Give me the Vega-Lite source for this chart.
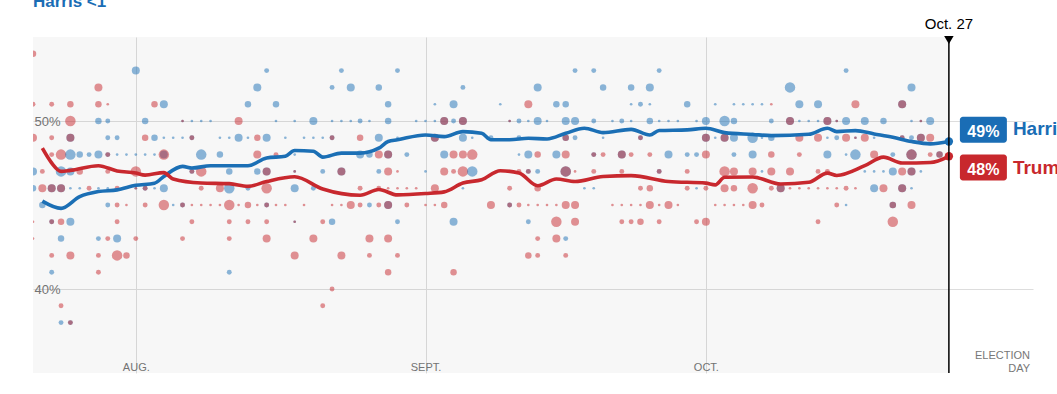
{
"$schema": "https://vega.github.io/schema/vega-lite/v6.json",
"width": 1000, "height": 336,
"autosize": {"type": "none"},
"padding": {"left": 33, "top": 37, "right": 24, "bottom": 21},
"background": "#ffffff",
"config": {"view": {"stroke": null}, "font": "Liberation Sans"},
"layer": [
{"data": {"values": [{"d":"2024/07/21","d2":"2024/10/27"}]},
 "mark": {"type":"rect","fill":"#000000","fillOpacity":0.031},
 "encoding": {
  "x": {"field":"d","type":"temporal","title":null,
   "scale":{"domain":[{"year":2024,"month":7,"date":21},{"year":2024,"month":11,"date":5}],"nice":false},
   "axis":{"values":[{"year":2024,"month":8,"date":1},{"year":2024,"month":9,"date":1},{"year":2024,"month":10,"date":1}],
     "labelExpr":"['JAN.','FEB.','MAR.','APR.','MAY','JUNE','JULY','AUG.','SEPT.','OCT.','NOV.','DEC.'][month(datum.value)]",
     "grid":true,"gridColor":"#dddddd","domain":false,"ticks":false,"tickSize":0,"labelPadding":-12,"labelBaseline":"top",
     "labelFontSize":11,"labelColor":"#777777","labelFlush":false,"labelAlign":"center"}},
  "x2": {"field":"d2"}}},
{"data": {"values": [
{"d":"2024/07/21","v":54,"c":"T","s":3},
{"d":"2024/08/01","v":53,"c":"H","s":4},{"d":"2024/08/15","v":53,"c":"H","s":2},{"d":"2024/08/23","v":53,"c":"H","s":2},{"d":"2024/08/29","v":53,"c":"H","s":2},{"d":"2024/09/17","v":53,"c":"H","s":2},{"d":"2024/09/19","v":53,"c":"H","s":2},{"d":"2024/09/26","v":53,"c":"H","s":2},{"d":"2024/10/16","v":53,"c":"H","s":2},
{"d":"2024/07/28","v":52,"c":"T","s":4},{"d":"2024/08/14","v":52,"c":"H","s":4},{"d":"2024/08/22","v":52,"c":"H","s":2},{"d":"2024/08/24","v":52,"c":"H","s":4},{"d":"2024/08/27","v":52,"c":"H","s":3},{"d":"2024/09/05","v":52,"c":"H","s":2},{"d":"2024/09/13","v":52,"c":"H","s":4},{"d":"2024/09/20","v":52,"c":"H","s":3},{"d":"2024/09/23","v":52,"c":"H","s":3},{"d":"2024/09/25","v":52,"c":"H","s":4},{"d":"2024/10/10","v":52,"c":"H","s":5},{"d":"2024/10/23","v":52,"c":"H","s":4},
{"d":"2024/07/21","v":51,"c":"T","s":2},{"d":"2024/07/23","v":51,"c":"T","s":2},{"d":"2024/07/25","v":51,"c":"T","s":3},{"d":"2024/07/28","v":51,"c":"T","s":3},{"d":"2024/07/29","v":51,"c":"T","s":1},{"d":"2024/08/03","v":51,"c":"T","s":3},{"d":"2024/08/04","v":51,"c":"H","s":4},{"d":"2024/08/13","v":51,"c":"H","s":3},{"d":"2024/08/16","v":51,"c":"H","s":3},{"d":"2024/08/28","v":51,"c":"H","s":3},{"d":"2024/09/02","v":51,"c":"H","s":1},{"d":"2024/09/04","v":51,"c":"H","s":4},{"d":"2024/09/09","v":51,"c":"H","s":1},{"d":"2024/09/12","v":51,"c":"T","s":4},{"d":"2024/09/15","v":51,"c":"H","s":3},{"d":"2024/09/16","v":51,"c":"H","s":3},{"d":"2024/09/23","v":51,"c":"H","s":1},{"d":"2024/09/24","v":51,"c":"H","s":2},{"d":"2024/09/25","v":51,"c":"H","s":1},{"d":"2024/09/29","v":51,"c":"H","s":3},{"d":"2024/10/02","v":51,"c":"H","s":1},{"d":"2024/10/04","v":51,"c":"H","s":1},{"d":"2024/10/05","v":51,"c":"H","s":1},{"d":"2024/10/06","v":51,"c":"H","s":1},{"d":"2024/10/07","v":51,"c":"H","s":1},{"d":"2024/10/08","v":51,"c":"T","s":1},{"d":"2024/10/11","v":51,"c":"H","s":4},{"d":"2024/10/13","v":51,"c":"H","s":4},{"d":"2024/10/17","v":51,"c":"T","s":4},{"d":"2024/10/22","v":51,"c":"H","s":4},{"d":"2024/10/22","v":51,"c":"T","s":4},
{"d":"2024/07/25","v":50,"c":"T","s":5},{"d":"2024/07/28","v":50,"c":"H","s":3},{"d":"2024/07/29","v":50,"c":"H","s":2},{"d":"2024/08/02","v":50,"c":"H","s":3},{"d":"2024/08/06","v":50,"c":"H","s":1},{"d":"2024/08/06","v":50,"c":"T","s":1},{"d":"2024/08/07","v":50,"c":"H","s":1},{"d":"2024/08/08","v":50,"c":"H","s":1},{"d":"2024/08/09","v":50,"c":"H","s":1},{"d":"2024/08/12","v":50,"c":"T","s":4},{"d":"2024/08/16","v":50,"c":"H","s":1},{"d":"2024/08/18","v":50,"c":"H","s":1},{"d":"2024/08/20","v":50,"c":"H","s":4},{"d":"2024/08/22","v":50,"c":"H","s":1},{"d":"2024/08/23","v":50,"c":"H","s":1},{"d":"2024/08/24","v":50,"c":"H","s":1},{"d":"2024/08/25","v":50,"c":"H","s":2},{"d":"2024/08/26","v":50,"c":"H","s":1},{"d":"2024/08/28","v":50,"c":"H","s":3},{"d":"2024/08/31","v":50,"c":"H","s":1},{"d":"2024/09/01","v":50,"c":"H","s":1},{"d":"2024/09/02","v":50,"c":"H","s":1},{"d":"2024/09/03","v":50,"c":"H","s":4},{"d":"2024/09/03","v":50,"c":"T","s":4},{"d":"2024/09/04","v":50,"c":"H","s":2},{"d":"2024/09/05","v":50,"c":"H","s":4},{"d":"2024/09/05","v":50,"c":"T","s":4},{"d":"2024/09/10","v":50,"c":"H","s":1},{"d":"2024/09/10","v":50,"c":"T","s":1},{"d":"2024/09/11","v":50,"c":"H","s":2},{"d":"2024/09/12","v":50,"c":"H","s":1},{"d":"2024/09/13","v":50,"c":"H","s":4},{"d":"2024/09/14","v":50,"c":"H","s":1},{"d":"2024/09/16","v":50,"c":"H","s":4},{"d":"2024/09/17","v":50,"c":"H","s":4},{"d":"2024/09/19","v":50,"c":"H","s":2},{"d":"2024/09/21","v":50,"c":"H","s":1},{"d":"2024/09/22","v":50,"c":"H","s":2},{"d":"2024/09/23","v":50,"c":"H","s":1},{"d":"2024/09/25","v":50,"c":"H","s":3},{"d":"2024/09/26","v":50,"c":"H","s":1},{"d":"2024/09/27","v":50,"c":"H","s":1},{"d":"2024/09/28","v":50,"c":"H","s":1},{"d":"2024/09/30","v":50,"c":"H","s":1},{"d":"2024/10/01","v":50,"c":"H","s":4},{"d":"2024/10/03","v":50,"c":"H","s":5},{"d":"2024/10/04","v":50,"c":"H","s":3},{"d":"2024/10/08","v":50,"c":"H","s":2},{"d":"2024/10/10","v":50,"c":"H","s":4},{"d":"2024/10/10","v":50,"c":"T","s":4},{"d":"2024/10/11","v":50,"c":"H","s":1},{"d":"2024/10/12","v":50,"c":"H","s":1},{"d":"2024/10/13","v":50,"c":"H","s":1},{"d":"2024/10/14","v":50,"c":"H","s":4},{"d":"2024/10/14","v":50,"c":"T","s":4},{"d":"2024/10/15","v":50,"c":"H","s":1},{"d":"2024/10/15","v":50,"c":"T","s":1},{"d":"2024/10/16","v":50,"c":"H","s":4},{"d":"2024/10/18","v":50,"c":"H","s":4},{"d":"2024/10/20","v":50,"c":"H","s":3},{"d":"2024/10/23","v":50,"c":"H","s":1},{"d":"2024/10/24","v":50,"c":"H","s":1},{"d":"2024/10/24","v":50,"c":"T","s":1},{"d":"2024/10/25","v":50,"c":"H","s":4},
{"d":"2024/07/21","v":49,"c":"T","s":4},{"d":"2024/07/23","v":49,"c":"T","s":2},{"d":"2024/07/25","v":49,"c":"H","s":4},{"d":"2024/07/25","v":49,"c":"T","s":4},{"d":"2024/07/29","v":49,"c":"H","s":2},{"d":"2024/07/30","v":49,"c":"H","s":2},{"d":"2024/08/02","v":49,"c":"T","s":3},{"d":"2024/08/03","v":49,"c":"H","s":3},{"d":"2024/08/04","v":49,"c":"H","s":1},{"d":"2024/08/05","v":49,"c":"H","s":1},{"d":"2024/08/06","v":49,"c":"H","s":1},{"d":"2024/08/07","v":49,"c":"H","s":2},{"d":"2024/08/07","v":49,"c":"T","s":2},{"d":"2024/08/10","v":49,"c":"H","s":1},{"d":"2024/08/11","v":49,"c":"H","s":1},{"d":"2024/08/12","v":49,"c":"H","s":4},{"d":"2024/08/13","v":49,"c":"H","s":1},{"d":"2024/08/14","v":49,"c":"T","s":3},{"d":"2024/08/15","v":49,"c":"H","s":4},{"d":"2024/08/17","v":49,"c":"H","s":1},{"d":"2024/08/19","v":49,"c":"H","s":1},{"d":"2024/08/20","v":49,"c":"H","s":1},{"d":"2024/08/21","v":49,"c":"H","s":1},{"d":"2024/08/22","v":49,"c":"H","s":2},{"d":"2024/08/22","v":49,"c":"T","s":2},{"d":"2024/08/25","v":49,"c":"T","s":3},{"d":"2024/08/27","v":49,"c":"H","s":4},{"d":"2024/08/29","v":49,"c":"H","s":1},{"d":"2024/09/02","v":49,"c":"H","s":4},{"d":"2024/09/02","v":49,"c":"T","s":4},{"d":"2024/09/05","v":49,"c":"H","s":4},{"d":"2024/09/06","v":49,"c":"H","s":1},{"d":"2024/09/08","v":49,"c":"H","s":2},{"d":"2024/09/11","v":49,"c":"H","s":2},{"d":"2024/09/16","v":49,"c":"H","s":3},{"d":"2024/09/16","v":49,"c":"T","s":3},{"d":"2024/09/17","v":49,"c":"H","s":2},{"d":"2024/09/20","v":49,"c":"H","s":1},{"d":"2024/09/24","v":49,"c":"H","s":2},{"d":"2024/09/24","v":49,"c":"T","s":2},{"d":"2024/10/01","v":49,"c":"H","s":4},{"d":"2024/10/01","v":49,"c":"T","s":4},{"d":"2024/10/02","v":49,"c":"H","s":1},{"d":"2024/10/03","v":49,"c":"H","s":4},{"d":"2024/10/03","v":49,"c":"T","s":4},{"d":"2024/10/04","v":49,"c":"H","s":4},{"d":"2024/10/06","v":49,"c":"H","s":5},{"d":"2024/10/07","v":49,"c":"H","s":1},{"d":"2024/10/08","v":49,"c":"H","s":3},{"d":"2024/10/11","v":49,"c":"T","s":4},{"d":"2024/10/13","v":49,"c":"T","s":4},{"d":"2024/10/14","v":49,"c":"H","s":1},{"d":"2024/10/15","v":49,"c":"H","s":2},{"d":"2024/10/16","v":49,"c":"T","s":4},{"d":"2024/10/17","v":49,"c":"H","s":1},{"d":"2024/10/17","v":49,"c":"T","s":1},{"d":"2024/10/18","v":49,"c":"T","s":4},{"d":"2024/10/19","v":49,"c":"H","s":1},{"d":"2024/10/22","v":49,"c":"H","s":2},{"d":"2024/10/22","v":49,"c":"T","s":2},{"d":"2024/10/23","v":49,"c":"H","s":2},{"d":"2024/10/24","v":49,"c":"H","s":4},{"d":"2024/10/24","v":49,"c":"T","s":4},{"d":"2024/10/25","v":49,"c":"T","s":4},
{"d":"2024/07/23","v":48,"c":"T","s":2},{"d":"2024/07/24","v":48,"c":"T","s":5},{"d":"2024/07/25","v":48,"c":"H","s":5},{"d":"2024/07/26","v":48,"c":"H","s":3},{"d":"2024/07/27","v":48,"c":"H","s":2},{"d":"2024/07/28","v":48,"c":"H","s":4},{"d":"2024/07/29","v":48,"c":"H","s":2},{"d":"2024/07/29","v":48,"c":"T","s":2},{"d":"2024/07/30","v":48,"c":"H","s":1},{"d":"2024/07/31","v":48,"c":"H","s":1},{"d":"2024/08/01","v":48,"c":"H","s":1},{"d":"2024/08/02","v":48,"c":"H","s":1},{"d":"2024/08/03","v":48,"c":"H","s":1},{"d":"2024/08/04","v":48,"c":"H","s":4},{"d":"2024/08/04","v":48,"c":"T","s":5},{"d":"2024/08/08","v":48,"c":"H","s":5},{"d":"2024/08/10","v":48,"c":"H","s":3},{"d":"2024/08/14","v":48,"c":"T","s":4},{"d":"2024/08/16","v":48,"c":"T","s":2},{"d":"2024/08/18","v":48,"c":"H","s":1},{"d":"2024/08/25","v":48,"c":"H","s":4},{"d":"2024/08/26","v":48,"c":"H","s":3},{"d":"2024/08/27","v":48,"c":"T","s":4},{"d":"2024/08/28","v":48,"c":"H","s":4},{"d":"2024/08/28","v":48,"c":"T","s":4},{"d":"2024/08/30","v":48,"c":"H","s":2},{"d":"2024/09/03","v":48,"c":"H","s":4},{"d":"2024/09/04","v":48,"c":"T","s":4},{"d":"2024/09/05","v":48,"c":"T","s":4},{"d":"2024/09/06","v":48,"c":"T","s":5},{"d":"2024/09/11","v":48,"c":"H","s":1},{"d":"2024/09/12","v":48,"c":"H","s":4},{"d":"2024/09/13","v":48,"c":"T","s":3},{"d":"2024/09/15","v":48,"c":"H","s":4},{"d":"2024/09/16","v":48,"c":"T","s":4},{"d":"2024/09/19","v":48,"c":"H","s":2},{"d":"2024/09/19","v":48,"c":"T","s":2},{"d":"2024/09/20","v":48,"c":"T","s":2},{"d":"2024/09/22","v":48,"c":"H","s":4},{"d":"2024/09/22","v":48,"c":"T","s":4},{"d":"2024/09/23","v":48,"c":"T","s":2},{"d":"2024/09/25","v":48,"c":"T","s":2},{"d":"2024/09/27","v":48,"c":"H","s":4},{"d":"2024/09/29","v":48,"c":"H","s":2},{"d":"2024/09/30","v":48,"c":"H","s":2},{"d":"2024/10/01","v":48,"c":"T","s":4},{"d":"2024/10/04","v":48,"c":"H","s":2},{"d":"2024/10/06","v":48,"c":"H","s":4},{"d":"2024/10/08","v":48,"c":"T","s":3},{"d":"2024/10/11","v":48,"c":"T","s":2},{"d":"2024/10/14","v":48,"c":"H","s":4},{"d":"2024/10/16","v":48,"c":"H","s":1},{"d":"2024/10/17","v":48,"c":"H","s":5},{"d":"2024/10/19","v":48,"c":"T","s":4},{"d":"2024/10/21","v":48,"c":"H","s":2},{"d":"2024/10/23","v":48,"c":"H","s":5},{"d":"2024/10/23","v":48,"c":"T","s":5},{"d":"2024/10/25","v":48,"c":"T","s":2},{"d":"2024/10/26","v":48,"c":"H","s":3},{"d":"2024/10/26","v":48,"c":"T","s":3},
{"d":"2024/07/21","v":47,"c":"H","s":4},{"d":"2024/07/22","v":47,"c":"T","s":2},{"d":"2024/07/24","v":47,"c":"H","s":5},{"d":"2024/07/25","v":47,"c":"H","s":4},{"d":"2024/07/26","v":47,"c":"T","s":3},{"d":"2024/07/29","v":47,"c":"T","s":2},{"d":"2024/08/01","v":47,"c":"T","s":5},{"d":"2024/08/07","v":47,"c":"H","s":2},{"d":"2024/08/07","v":47,"c":"T","s":2},{"d":"2024/08/08","v":47,"c":"T","s":5},{"d":"2024/08/11","v":47,"c":"H","s":3},{"d":"2024/08/14","v":47,"c":"H","s":3},{"d":"2024/08/15","v":47,"c":"H","s":4},{"d":"2024/08/15","v":47,"c":"T","s":4},{"d":"2024/08/18","v":47,"c":"H","s":1},{"d":"2024/08/18","v":47,"c":"T","s":1},{"d":"2024/08/21","v":47,"c":"H","s":2},{"d":"2024/08/23","v":47,"c":"H","s":4},{"d":"2024/08/23","v":47,"c":"T","s":4},{"d":"2024/08/27","v":47,"c":"H","s":2},{"d":"2024/08/28","v":47,"c":"T","s":4},{"d":"2024/08/29","v":47,"c":"T","s":1},{"d":"2024/09/01","v":47,"c":"H","s":1},{"d":"2024/09/03","v":47,"c":"T","s":4},{"d":"2024/09/04","v":47,"c":"T","s":2},{"d":"2024/09/05","v":47,"c":"T","s":5},{"d":"2024/09/06","v":47,"c":"H","s":5},{"d":"2024/09/11","v":47,"c":"T","s":2},{"d":"2024/09/12","v":47,"c":"H","s":2},{"d":"2024/09/12","v":47,"c":"T","s":2},{"d":"2024/09/13","v":47,"c":"H","s":2},{"d":"2024/09/16","v":47,"c":"H","s":5},{"d":"2024/09/16","v":47,"c":"T","s":5},{"d":"2024/09/17","v":47,"c":"T","s":1},{"d":"2024/09/19","v":47,"c":"T","s":2},{"d":"2024/09/22","v":47,"c":"T","s":2},{"d":"2024/09/26","v":47,"c":"H","s":2},{"d":"2024/09/26","v":47,"c":"T","s":2},{"d":"2024/09/29","v":47,"c":"T","s":2},{"d":"2024/10/03","v":47,"c":"T","s":5},{"d":"2024/10/04","v":47,"c":"T","s":4},{"d":"2024/10/06","v":47,"c":"T","s":4},{"d":"2024/10/07","v":47,"c":"H","s":1},{"d":"2024/10/08","v":47,"c":"T","s":4},{"d":"2024/10/10","v":47,"c":"T","s":4},{"d":"2024/10/13","v":47,"c":"T","s":2},{"d":"2024/10/14","v":47,"c":"T","s":2},{"d":"2024/10/18","v":47,"c":"H","s":1},{"d":"2024/10/19","v":47,"c":"H","s":1},{"d":"2024/10/20","v":47,"c":"H","s":1},{"d":"2024/10/21","v":47,"c":"H","s":4},{"d":"2024/10/22","v":47,"c":"T","s":4},{"d":"2024/10/23","v":47,"c":"H","s":4},{"d":"2024/10/23","v":47,"c":"T","s":4},{"d":"2024/10/24","v":47,"c":"H","s":1},
{"d":"2024/07/21","v":46,"c":"H","s":3},{"d":"2024/07/22","v":46,"c":"T","s":4},{"d":"2024/07/23","v":46,"c":"H","s":4},{"d":"2024/07/23","v":46,"c":"T","s":4},{"d":"2024/07/24","v":46,"c":"H","s":4},{"d":"2024/07/24","v":46,"c":"T","s":4},{"d":"2024/07/25","v":46,"c":"H","s":1},{"d":"2024/07/26","v":46,"c":"H","s":1},{"d":"2024/07/27","v":46,"c":"T","s":2},{"d":"2024/07/28","v":46,"c":"H","s":1},{"d":"2024/07/29","v":46,"c":"H","s":1},{"d":"2024/07/30","v":46,"c":"T","s":2},{"d":"2024/08/01","v":46,"c":"H","s":1},{"d":"2024/08/01","v":46,"c":"T","s":1},{"d":"2024/08/02","v":46,"c":"H","s":2},{"d":"2024/08/02","v":46,"c":"T","s":2},{"d":"2024/08/03","v":46,"c":"H","s":1},{"d":"2024/08/04","v":46,"c":"H","s":4},{"d":"2024/08/08","v":46,"c":"T","s":2},{"d":"2024/08/10","v":46,"c":"T","s":4},{"d":"2024/08/11","v":46,"c":"H","s":5},{"d":"2024/08/13","v":46,"c":"H","s":2},{"d":"2024/08/15","v":46,"c":"T","s":5},{"d":"2024/08/18","v":46,"c":"H","s":4},{"d":"2024/08/20","v":46,"c":"H","s":2},{"d":"2024/08/25","v":46,"c":"T","s":2},{"d":"2024/08/27","v":46,"c":"T","s":2},{"d":"2024/08/28","v":46,"c":"T","s":1},{"d":"2024/08/29","v":46,"c":"T","s":1},{"d":"2024/08/30","v":46,"c":"T","s":1},{"d":"2024/08/31","v":46,"c":"T","s":1},{"d":"2024/09/02","v":46,"c":"T","s":4},{"d":"2024/09/05","v":46,"c":"H","s":1},{"d":"2024/09/10","v":46,"c":"T","s":2},{"d":"2024/09/13","v":46,"c":"T","s":3},{"d":"2024/09/18","v":46,"c":"H","s":1},{"d":"2024/09/19","v":46,"c":"H","s":1},{"d":"2024/09/24","v":46,"c":"T","s":2},{"d":"2024/09/25","v":46,"c":"T","s":3},{"d":"2024/09/29","v":46,"c":"T","s":2},{"d":"2024/09/30","v":46,"c":"H","s":1},{"d":"2024/10/01","v":46,"c":"T","s":2},{"d":"2024/10/03","v":46,"c":"T","s":4},{"d":"2024/10/04","v":46,"c":"T","s":3},{"d":"2024/10/06","v":46,"c":"T","s":5},{"d":"2024/10/08","v":46,"c":"T","s":2},{"d":"2024/10/09","v":46,"c":"H","s":4},{"d":"2024/10/09","v":46,"c":"T","s":4},{"d":"2024/10/10","v":46,"c":"T","s":1},{"d":"2024/10/11","v":46,"c":"T","s":1},{"d":"2024/10/12","v":46,"c":"T","s":1},{"d":"2024/10/13","v":46,"c":"T","s":1},{"d":"2024/10/14","v":46,"c":"T","s":1},{"d":"2024/10/15","v":46,"c":"T","s":1},{"d":"2024/10/16","v":46,"c":"T","s":2},{"d":"2024/10/17","v":46,"c":"T","s":1},{"d":"2024/10/19","v":46,"c":"H","s":4},{"d":"2024/10/20","v":46,"c":"T","s":4},{"d":"2024/10/22","v":46,"c":"H","s":4},{"d":"2024/10/22","v":46,"c":"T","s":4},{"d":"2024/10/23","v":46,"c":"H","s":1},
{"d":"2024/07/22","v":45,"c":"H","s":3},{"d":"2024/07/29","v":45,"c":"H","s":2},{"d":"2024/07/30","v":45,"c":"T","s":2},{"d":"2024/07/31","v":45,"c":"T","s":1},{"d":"2024/08/02","v":45,"c":"T","s":2},{"d":"2024/08/04","v":45,"c":"T","s":5},{"d":"2024/08/05","v":45,"c":"H","s":1},{"d":"2024/08/06","v":45,"c":"H","s":2},{"d":"2024/08/06","v":45,"c":"T","s":2},{"d":"2024/08/07","v":45,"c":"T","s":1},{"d":"2024/08/08","v":45,"c":"T","s":1},{"d":"2024/08/09","v":45,"c":"T","s":1},{"d":"2024/08/10","v":45,"c":"T","s":1},{"d":"2024/08/11","v":45,"c":"T","s":5},{"d":"2024/08/12","v":45,"c":"T","s":1},{"d":"2024/08/13","v":45,"c":"T","s":3},{"d":"2024/08/14","v":45,"c":"T","s":1},{"d":"2024/08/15","v":45,"c":"H","s":2},{"d":"2024/08/15","v":45,"c":"T","s":2},{"d":"2024/08/16","v":45,"c":"T","s":1},{"d":"2024/08/17","v":45,"c":"T","s":1},{"d":"2024/08/19","v":45,"c":"T","s":1},{"d":"2024/08/22","v":45,"c":"T","s":1},{"d":"2024/08/23","v":45,"c":"T","s":1},{"d":"2024/08/24","v":45,"c":"T","s":4},{"d":"2024/08/25","v":45,"c":"T","s":2},{"d":"2024/08/26","v":45,"c":"H","s":2},{"d":"2024/08/27","v":45,"c":"T","s":2},{"d":"2024/08/28","v":45,"c":"H","s":4},{"d":"2024/08/28","v":45,"c":"T","s":4},{"d":"2024/08/30","v":45,"c":"T","s":2},{"d":"2024/09/01","v":45,"c":"T","s":1},{"d":"2024/09/02","v":45,"c":"T","s":1},{"d":"2024/09/03","v":45,"c":"T","s":3},{"d":"2024/09/08","v":45,"c":"T","s":4},{"d":"2024/09/10","v":45,"c":"H","s":2},{"d":"2024/09/10","v":45,"c":"T","s":2},{"d":"2024/09/11","v":45,"c":"T","s":2},{"d":"2024/09/12","v":45,"c":"T","s":1},{"d":"2024/09/13","v":45,"c":"T","s":1},{"d":"2024/09/14","v":45,"c":"T","s":1},{"d":"2024/09/15","v":45,"c":"T","s":1},{"d":"2024/09/16","v":45,"c":"T","s":4},{"d":"2024/09/17","v":45,"c":"T","s":4},{"d":"2024/09/21","v":45,"c":"T","s":1},{"d":"2024/09/22","v":45,"c":"T","s":1},{"d":"2024/09/23","v":45,"c":"T","s":1},{"d":"2024/09/24","v":45,"c":"T","s":1},{"d":"2024/09/25","v":45,"c":"T","s":4},{"d":"2024/09/26","v":45,"c":"T","s":1},{"d":"2024/09/27","v":45,"c":"T","s":4},{"d":"2024/09/28","v":45,"c":"T","s":1},{"d":"2024/10/02","v":45,"c":"T","s":1},{"d":"2024/10/03","v":45,"c":"T","s":1},{"d":"2024/10/04","v":45,"c":"T","s":1},{"d":"2024/10/05","v":45,"c":"T","s":1},{"d":"2024/10/06","v":45,"c":"T","s":4},{"d":"2024/10/07","v":45,"c":"T","s":2},{"d":"2024/10/15","v":45,"c":"T","s":2},{"d":"2024/10/16","v":45,"c":"H","s":1},{"d":"2024/10/21","v":45,"c":"H","s":3},{"d":"2024/10/21","v":45,"c":"T","s":3},{"d":"2024/10/23","v":45,"c":"T","s":4},
{"d":"2024/07/21","v":44,"c":"T","s":1},{"d":"2024/07/23","v":44,"c":"H","s":2},{"d":"2024/07/23","v":44,"c":"T","s":2},{"d":"2024/07/24","v":44,"c":"T","s":3},{"d":"2024/07/25","v":44,"c":"H","s":4},{"d":"2024/07/30","v":44,"c":"T","s":2},{"d":"2024/08/07","v":44,"c":"T","s":2},{"d":"2024/08/11","v":44,"c":"T","s":2},{"d":"2024/08/13","v":44,"c":"T","s":2},{"d":"2024/08/15","v":44,"c":"T","s":2},{"d":"2024/08/18","v":44,"c":"H","s":1},{"d":"2024/08/18","v":44,"c":"T","s":1},{"d":"2024/08/21","v":44,"c":"T","s":2},{"d":"2024/08/22","v":44,"c":"H","s":3},{"d":"2024/08/29","v":44,"c":"H","s":2},{"d":"2024/09/04","v":44,"c":"H","s":4},{"d":"2024/09/12","v":44,"c":"H","s":2},{"d":"2024/09/15","v":44,"c":"T","s":5},{"d":"2024/09/17","v":44,"c":"T","s":4},{"d":"2024/09/22","v":44,"c":"T","s":2},{"d":"2024/09/23","v":44,"c":"T","s":2},{"d":"2024/09/24","v":44,"c":"T","s":3},{"d":"2024/09/26","v":44,"c":"T","s":2},{"d":"2024/09/30","v":44,"c":"T","s":2},{"d":"2024/10/01","v":44,"c":"T","s":4},{"d":"2024/10/13","v":44,"c":"T","s":2},{"d":"2024/10/21","v":44,"c":"T","s":5},
{"d":"2024/07/21","v":43,"c":"T","s":1},{"d":"2024/07/24","v":43,"c":"H","s":3},{"d":"2024/07/28","v":43,"c":"H","s":2},{"d":"2024/07/29","v":43,"c":"T","s":2},{"d":"2024/07/30","v":43,"c":"H","s":4},{"d":"2024/08/01","v":43,"c":"T","s":2},{"d":"2024/08/06","v":43,"c":"T","s":2},{"d":"2024/08/11","v":43,"c":"T","s":2},{"d":"2024/08/15","v":43,"c":"T","s":4},{"d":"2024/08/20","v":43,"c":"T","s":4},{"d":"2024/08/26","v":43,"c":"T","s":4},{"d":"2024/08/28","v":43,"c":"T","s":4},{"d":"2024/09/13","v":43,"c":"T","s":2},{"d":"2024/09/15","v":43,"c":"T","s":4},{"d":"2024/09/16","v":43,"c":"H","s":2},
{"d":"2024/07/23","v":42,"c":"T","s":2},{"d":"2024/07/25","v":42,"c":"T","s":4},{"d":"2024/07/28","v":42,"c":"T","s":2},{"d":"2024/07/30","v":42,"c":"T","s":5},{"d":"2024/07/31","v":42,"c":"T","s":3},{"d":"2024/08/18","v":42,"c":"T","s":4},{"d":"2024/08/23","v":42,"c":"T","s":4},{"d":"2024/08/26","v":42,"c":"T","s":2},{"d":"2024/08/29","v":42,"c":"T","s":2},{"d":"2024/09/12","v":42,"c":"T","s":3},{"d":"2024/09/13","v":42,"c":"T","s":2},{"d":"2024/09/16","v":42,"c":"T","s":2},
{"d":"2024/07/23","v":41,"c":"H","s":2},{"d":"2024/07/28","v":41,"c":"T","s":2},{"d":"2024/08/11","v":41,"c":"H","s":2},{"d":"2024/08/28","v":41,"c":"T","s":3},{"d":"2024/09/04","v":41,"c":"T","s":3},
{"d":"2024/08/22","v":40,"c":"T","s":2},
{"d":"2024/07/24","v":39,"c":"T","s":2},{"d":"2024/08/21","v":39,"c":"T","s":2},
{"d":"2024/07/24","v":38,"c":"H","s":2},{"d":"2024/07/25","v":38,"c":"H","s":2},{"d":"2024/07/25","v":38,"c":"T","s":2}
 ]},
 "mark": {"type":"circle","opacity":0.5,"clip":true},
 "encoding": {
  "x": {"field":"d","type":"temporal","title":null,"scale":{"domain":[{"year":2024,"month":7,"date":21},{"year":2024,"month":11,"date":5}],"nice":false}},
  "y": {"field":"v","type":"quantitative","title":null,"scale":{"domain":[35,55],"nice":false,"zero":false},
   "axis":{"values":[40,50],"labelExpr":"datum.value + '%'","grid":true,"gridColor":"#dddddd","domain":false,"ticks":false,"tickSize":0,
     "labelAlign":"left","labelPadding":-1,"labelBaseline":"middle","labelFontSize":13,"labelColor":"#777777"}},
  "color": {"field":"c","type":"nominal","scale":{"domain":["H","T"],"range":["#1b6fb5","#c8282e"]},"legend":null},
  "size": {"field":"s","type":"quantitative","scale":{"domain":[1,2,3,4,5],"range":[7,24,42,64,110]},"legend":null}}},
{"data": {"values": [
{"d":"2024/07/22","v":45.23,"c":"H"},{"d":"2024/07/24","v":44.8,"c":"H"},{"d":"2024/07/26","v":45.5,"c":"H"},{"d":"2024/07/28","v":45.8,"c":"H"},{"d":"2024/07/30","v":45.9,"c":"H"},{"d":"2024/08/01","v":46.17,"c":"H"},{"d":"2024/08/03","v":46.3,"c":"H"},{"d":"2024/08/04","v":46.7,"c":"H"},{"d":"2024/08/06","v":47.3,"c":"H"},{"d":"2024/08/07","v":47.2,"c":"H"},{"d":"2024/08/09","v":47.34,"c":"H"},{"d":"2024/08/13","v":47.34,"c":"H"},{"d":"2024/08/15","v":47.8,"c":"H"},{"d":"2024/08/17","v":47.9,"c":"H"},{"d":"2024/08/18","v":48.24,"c":"H"},{"d":"2024/08/20","v":48.2,"c":"H"},{"d":"2024/08/21","v":47.85,"c":"H"},{"d":"2024/08/23","v":48.09,"c":"H"},{"d":"2024/08/25","v":48.09,"c":"H"},{"d":"2024/08/27","v":48.38,"c":"H"},{"d":"2024/08/28","v":48.78,"c":"H"},{"d":"2024/08/29","v":48.88,"c":"H"},{"d":"2024/09/01","v":49.17,"c":"H"},{"d":"2024/09/03","v":49.07,"c":"H"},{"d":"2024/09/05","v":49.37,"c":"H"},{"d":"2024/09/07","v":49.27,"c":"H"},{"d":"2024/09/08","v":48.88,"c":"H"},{"d":"2024/09/10","v":48.88,"c":"H"},{"d":"2024/09/12","v":48.97,"c":"H"},{"d":"2024/09/14","v":48.93,"c":"H"},{"d":"2024/09/16","v":49.27,"c":"H"},{"d":"2024/09/18","v":49.57,"c":"H"},{"d":"2024/09/20","v":49.31,"c":"H"},{"d":"2024/09/23","v":49.5,"c":"H"},{"d":"2024/09/25","v":49.17,"c":"H"},{"d":"2024/09/26","v":49.43,"c":"H"},{"d":"2024/09/29","v":49.47,"c":"H"},{"d":"2024/10/01","v":49.57,"c":"H"},{"d":"2024/10/03","v":49.31,"c":"H"},{"d":"2024/10/06","v":49.2,"c":"H"},{"d":"2024/10/08","v":49.13,"c":"H"},{"d":"2024/10/12","v":49.21,"c":"H"},{"d":"2024/10/14","v":49.57,"c":"H"},{"d":"2024/10/15","v":49.37,"c":"H"},{"d":"2024/10/17","v":49.43,"c":"H"},{"d":"2024/10/19","v":49.23,"c":"H"},{"d":"2024/10/21","v":49.03,"c":"H"},{"d":"2024/10/23","v":48.78,"c":"H"},{"d":"2024/10/25","v":48.64,"c":"H"},{"d":"2024/10/27","v":48.78,"c":"H"},
{"d":"2024/07/22","v":48.38,"c":"T"},{"d":"2024/07/23","v":47.5,"c":"T"},{"d":"2024/07/24","v":47.0,"c":"T"},{"d":"2024/07/25","v":47.06,"c":"T"},{"d":"2024/07/28","v":47.34,"c":"T"},{"d":"2024/07/30","v":47.03,"c":"T"},{"d":"2024/08/01","v":46.9,"c":"T"},{"d":"2024/08/02","v":46.78,"c":"T"},{"d":"2024/08/04","v":46.93,"c":"T"},{"d":"2024/08/05","v":46.55,"c":"T"},{"d":"2024/08/08","v":46.31,"c":"T"},{"d":"2024/08/11","v":46.27,"c":"T"},{"d":"2024/08/13","v":46.11,"c":"T"},{"d":"2024/08/15","v":46.4,"c":"T"},{"d":"2024/08/18","v":46.68,"c":"T"},{"d":"2024/08/21","v":45.95,"c":"T"},{"d":"2024/08/25","v":45.58,"c":"T"},{"d":"2024/08/27","v":45.92,"c":"T"},{"d":"2024/08/29","v":45.6,"c":"T"},{"d":"2024/09/01","v":45.68,"c":"T"},{"d":"2024/09/03","v":45.78,"c":"T"},{"d":"2024/09/05","v":46.31,"c":"T"},{"d":"2024/09/07","v":46.5,"c":"T"},{"d":"2024/09/09","v":47.04,"c":"T"},{"d":"2024/09/11","v":46.9,"c":"T"},{"d":"2024/09/13","v":46.15,"c":"T"},{"d":"2024/09/15","v":46.55,"c":"T"},{"d":"2024/09/17","v":46.4,"c":"T"},{"d":"2024/09/20","v":46.7,"c":"T"},{"d":"2024/09/23","v":46.75,"c":"T"},{"d":"2024/09/27","v":46.4,"c":"T"},{"d":"2024/10/01","v":46.3,"c":"T"},{"d":"2024/10/02","v":46.2,"c":"T"},{"d":"2024/10/03","v":46.65,"c":"T"},{"d":"2024/10/06","v":46.67,"c":"T"},{"d":"2024/10/09","v":46.25,"c":"T"},{"d":"2024/10/12","v":46.35,"c":"T"},{"d":"2024/10/14","v":46.9,"c":"T"},{"d":"2024/10/15","v":46.76,"c":"T"},{"d":"2024/10/18","v":47.34,"c":"T"},{"d":"2024/10/20","v":47.85,"c":"T"},{"d":"2024/10/22","v":47.5,"c":"T"},{"d":"2024/10/25","v":47.53,"c":"T"},{"d":"2024/10/27","v":47.9,"c":"T"}
 ]},
 "mark": {"type":"line","strokeWidth":3.6,"interpolate":"monotone"},
 "encoding": {
  "x": {"field":"d","type":"temporal","title":null,"scale":{"domain":[{"year":2024,"month":7,"date":21},{"year":2024,"month":11,"date":5}],"nice":false}},
  "y": {"field":"v","type":"quantitative","title":null,"scale":{"domain":[35,55],"nice":false,"zero":false}},
  "color": {"field":"c","type":"nominal","scale":{"domain":["H","T"],"range":["#1b6fb5","#c8282e"]},"legend":null}}},
{"data": {"values": [{"d":"2024/10/27","v":48.78,"c":"H"},{"d":"2024/10/27","v":47.9,"c":"T"}]},
 "mark": {"type":"circle","size":70,"opacity":1},
 "encoding": {
  "x": {"field":"d","type":"temporal","title":null},
  "y": {"field":"v","type":"quantitative","title":null},
  "color": {"field":"c","type":"nominal","scale":{"domain":["H","T"],"range":["#1b6fb5","#c8282e"]},"legend":null}}},
{"data": {"values": [{"d":"2024/10/27","t":"Oct. 27"}]},
 "layer": [
  {"mark": {"type":"rule","color":"#000000","strokeWidth":1.5},
   "encoding": {"x": {"field":"d","type":"temporal","title":null}}},
  {"mark": {"type":"point","shape":"triangle-down","filled":true,"color":"#000000","size":90,"opacity":1},
   "encoding": {"x": {"field":"d","type":"temporal","title":null},"y":{"value":3}}},
  {"mark": {"type":"text","fontSize":15,"color":"#000000","align":"center","baseline":"alphabetic"},
   "encoding": {"x": {"field":"d","type":"temporal","title":null},"y":{"value":-8},"text":{"field":"t"}}}
 ]},
{"data": {"values": [{"d":"2024/10/27","v":49,"pct":"49%","name":"Harris"}]},
 "layer": [
  {"mark": {"type":"rect","color":"#1a6db5","cornerRadius":3,"xOffset":11,"x2Offset":58,"yOffset":-21,"y2Offset":5},
   "encoding": {"x":{"field":"d","type":"temporal","title":null},"x2":{"field":"d"},"y":{"field":"v","type":"quantitative","title":null},"y2":{"field":"v"}}},
  {"mark": {"type":"text","color":"#ffffff","fontWeight":"bold","fontSize":16,"align":"center","baseline":"alphabetic","dx":34.5,"dy":-1},
   "encoding": {"x":{"field":"d","type":"temporal","title":null},"y":{"field":"v","type":"quantitative","title":null},"text":{"field":"pct"}}},
  {"mark": {"type":"text","color":"#1a6db5","fontWeight":"bold","fontSize":19,"align":"left","baseline":"alphabetic","dx":64,"dy":-3},
   "encoding": {"x":{"field":"d","type":"temporal","title":null},"y":{"field":"v","type":"quantitative","title":null},"text":{"field":"name"}}}
 ]},
{"data": {"values": [{"d":"2024/10/27","v":48,"pct":"48%","name":"Trump"}]},
 "layer": [
  {"mark": {"type":"rect","color":"#c8282d","cornerRadius":3,"xOffset":11,"x2Offset":58,"yOffset":0,"y2Offset":26},
   "encoding": {"x":{"field":"d","type":"temporal","title":null},"x2":{"field":"d"},"y":{"field":"v","type":"quantitative","title":null},"y2":{"field":"v"}}},
  {"mark": {"type":"text","color":"#ffffff","fontWeight":"bold","fontSize":16,"align":"center","baseline":"alphabetic","dx":34.5,"dy":20},
   "encoding": {"x":{"field":"d","type":"temporal","title":null},"y":{"field":"v","type":"quantitative","title":null},"text":{"field":"pct"}}},
  {"mark": {"type":"text","color":"#c8282d","fontWeight":"bold","fontSize":19,"align":"left","baseline":"alphabetic","dx":64,"dy":19},
   "encoding": {"x":{"field":"d","type":"temporal","title":null},"y":{"field":"v","type":"quantitative","title":null},"text":{"field":"name"}}}
 ]},
{"data": {"values": [{"d":"2024/11/05","t":"ELECTION\nDAY"}]},
 "mark": {"type":"text","align":"right","baseline":"alphabetic","fontSize":11,"color":"#777777","lineBreak":"\n","lineHeight":13,"dx":-3},
 "encoding": {"x":{"field":"d","type":"temporal","title":null},"y":{"value":322},"text":{"field":"t"}}},
{"data": {"values": [{"d":"2024/07/21","t":"Harris <1"}]},
 "mark": {"type":"text","align":"left","baseline":"alphabetic","fontSize":17,"fontWeight":"bold","color":"#1a6db5"},
 "encoding": {"x":{"field":"d","type":"temporal","title":null},"y":{"value":-30},"text":{"field":"t"}}}
]
}
